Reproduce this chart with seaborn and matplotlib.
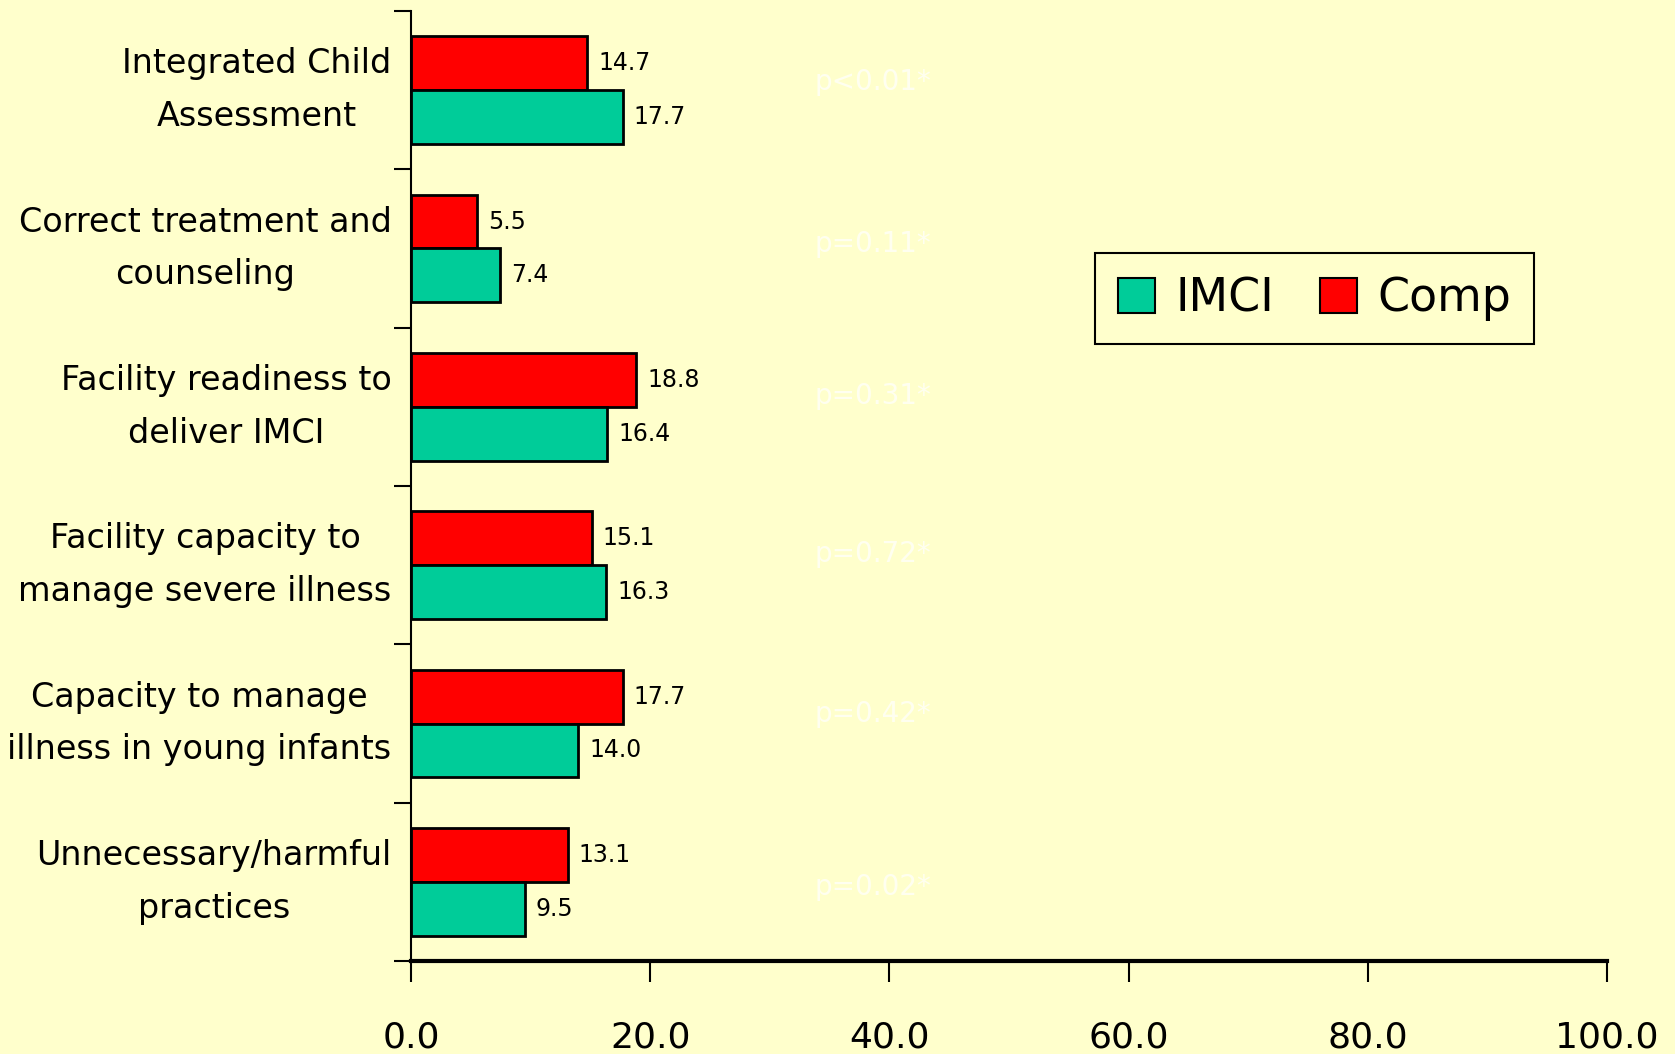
import numpy as np
import pandas as pd
import matplotlib
matplotlib.use('Agg')
import matplotlib.pyplot as plt
import seaborn as sns
from matplotlib.patches import Patch

categories = ['Integrated Child\nAssessment',
              'Correct treatment and\ncounseling',
              'Facility readiness to\ndeliver IMCI',
              'Facility capacity to\nmanage severe illness',
              'Capacity to manage\nillness in young infants',
              'Unnecessary/harmful\npractices']
imci = [17.7, 7.4, 16.4, 16.3, 14.0, 9.5]
comp = [14.7, 5.5, 18.8, 15.1, 17.7, 13.1]
p_values = ['p<0.01*', 'p=0.11*', 'p=0.31*', 'p=0.72*', 'p=0.42*', 'p=0.02*']
xticks = [0, 20, 40, 60, 80, 100]

bg = '#FFFFCC'
colors = {'Comp': '#FF0000', 'IMCI': '#00CC99'}

df = pd.DataFrame({
    'category': categories * 2,
    'group': ['Comp'] * len(categories) + ['IMCI'] * len(categories),
    'value': comp + imci,
})

sns.set_style('ticks')
plt.rcParams['font.family'] = ['DejaVu Sans']
plt.rcParams['text.color'] = 'black'
plt.rcParams['xtick.color'] = 'black'
plt.rcParams['ytick.color'] = 'black'
plt.rcParams['axes.edgecolor'] = 'black'

fig = plt.figure(figsize=(16.75, 10.54), dpi=100, facecolor=bg)
ax = fig.add_axes([0.2454, 0.0882, 0.7140, 0.9014])
ax.set_facecolor(bg)

sns.barplot(data=df, y='category', x='value', hue='group',
            hue_order=['Comp', 'IMCI'], order=categories, palette=colors,
            orient='h', width=0.68, saturation=1, edgecolor='black',
            linewidth=2, legend=False, ax=ax)

for cont in ax.containers:
    ax.bar_label(cont, fmt='%.1f', padding=8, fontsize=17, color='black')

# p-value annotations (nearly invisible, as in the original)
p_offsets = [-0.05, -0.03, -0.07, -0.07, -0.06, 0.03]
for i, (p, off) in enumerate(zip(p_values, p_offsets)):
    ax.text(33.7, i + off, p, fontsize=20, color='#FFFFF0', va='center', ha='left')

ax.set_xlim(0, 100)
ax.set_ylim(len(categories) - 0.5, -0.5)
ax.set_xticks(xticks)
ax.set_xticklabels([f'{v:.1f}' for v in xticks], fontsize=26)
ax.tick_params(axis='x', length=15, width=1.5, pad=28, direction='out')

# group separators as major ticks, labels on minor ticks
ax.set_yticks(np.arange(-0.5, len(categories), 1.0))
ax.set_yticklabels([])
ax.tick_params(axis='y', which='major', length=12, width=1.5)
ax.set_yticks(np.arange(len(categories)), minor=True)
ax.set_yticklabels(categories, minor=True, fontsize=24, multialignment='center',
                   linespacing=1.75, va='center')
ax.tick_params(axis='y', which='minor', length=0, pad=14)

ax.set_xlabel('')
ax.set_ylabel('')
for s in ['top', 'right']:
    ax.spines[s].set_visible(False)
ax.spines['bottom'].set_linewidth(3)
ax.spines['left'].set_linewidth(1.5)

handles = [Patch(facecolor=colors['IMCI'], edgecolor='black', linewidth=1.5, label='IMCI'),
           Patch(facecolor=colors['Comp'], edgecolor='black', linewidth=1.5, label='Comp')]
leg = ax.legend(handles=handles, loc='upper left', bbox_to_anchor=(0.553, 0.769),
                ncol=2, fontsize=33, frameon=True, fancybox=False,
                handlelength=0.8, handleheight=0.8, handletextpad=0.45,
                columnspacing=1.0, borderpad=0.5)
leg.get_frame().set_edgecolor('black')
leg.get_frame().set_linewidth(1.5)
leg.get_frame().set_facecolor(bg)
leg.get_frame().set_alpha(1)

plt.savefig('out.png', dpi=100, facecolor=bg)
